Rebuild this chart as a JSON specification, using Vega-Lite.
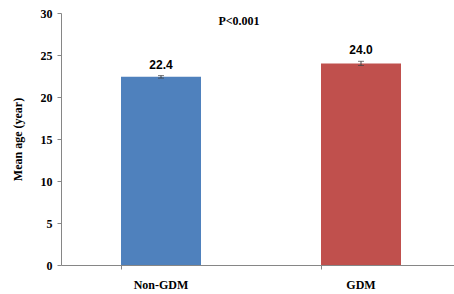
{
  "$schema": "https://vega.github.io/schema/vega-lite/v6.json",
  "width": 400,
  "height": 252,
  "autosize": {"type": "none"},
  "padding": {"left": 61, "top": 13, "right": 0, "bottom": 29},
  "background": "white",
  "config": {"view": {"stroke": null}},
  "data": {
    "values": [
      {"group": "Non-GDM", "mean": 22.4, "err": 0.15, "label": "22.4"},
      {"group": "GDM", "mean": 24.0, "err": 0.25, "label": "24.0"}
    ]
  },
  "encoding": {
    "x": {
      "field": "group",
      "type": "nominal",
      "sort": ["Non-GDM", "GDM"],
      "scale": {"paddingInner": 0.6, "paddingOuter": 0.3},
      "axis": {
        "title": null,
        "labelAngle": 0,
        "labelFont": "Liberation Serif",
        "labelFontWeight": "bold",
        "labelFontSize": 12,
        "labelColor": "black",
        "labelPadding": 10,
        "bandPosition": 0,
        "tickSize": 4,
        "domainColor": "#868686",
        "tickColor": "#868686"
      }
    }
  },
  "layer": [
    {
      "mark": {"type": "bar"},
      "encoding": {
        "y": {
          "field": "mean",
          "type": "quantitative",
          "title": "Mean age (year)",
          "scale": {"domain": [0, 30]},
          "axis": {
            "title": "Mean age (year)",
            "values": [0, 5, 10, 15, 20, 25, 30],
            "grid": false,
            "titleFont": "Liberation Serif",
            "titleFontWeight": "bold",
            "titleFontSize": 12,
            "titleColor": "black",
            "titlePadding": 16,
            "labelFont": "Liberation Serif",
            "labelFontWeight": "bold",
            "labelFontSize": 12,
            "labelColor": "black",
            "labelPadding": 5,
            "tickSize": 4,
            "domainColor": "#868686",
            "tickColor": "#868686"
          }
        },
        "color": {
          "field": "group",
          "type": "nominal",
          "scale": {"domain": ["Non-GDM", "GDM"], "range": ["#4F81BD", "#C0504D"]},
          "legend": null
        }
      }
    },
    {
      "mark": {"type": "errorbar", "ticks": {"size": 6, "color": "#404040"}, "color": "#404040"},
      "encoding": {
        "y": {"field": "mean", "type": "quantitative", "title": "Mean age (year)"},
        "yError": {"field": "err"}
      }
    },
    {
      "transform": [{"calculate": "datum.mean + datum.err", "as": "top"}],
      "mark": {"type": "text", "dy": -7, "baseline": "alphabetic", "font": "Liberation Sans", "fontSize": 12, "fontWeight": "bold", "color": "black"},
      "encoding": {
        "y": {"field": "top", "type": "quantitative", "title": "Mean age (year)"},
        "text": {"field": "label"}
      }
    },
    {
      "data": {"values": [{"group": "Non-GDM", "y": 29.1, "p": "P<0.001"}]},
      "mark": {"type": "text", "dx": 78, "baseline": "middle", "font": "Liberation Serif", "fontSize": 12, "fontWeight": "bold", "color": "black"},
      "encoding": {
        "y": {"field": "y", "type": "quantitative", "title": "Mean age (year)"},
        "text": {"field": "p"}
      }
    }
  ]
}
